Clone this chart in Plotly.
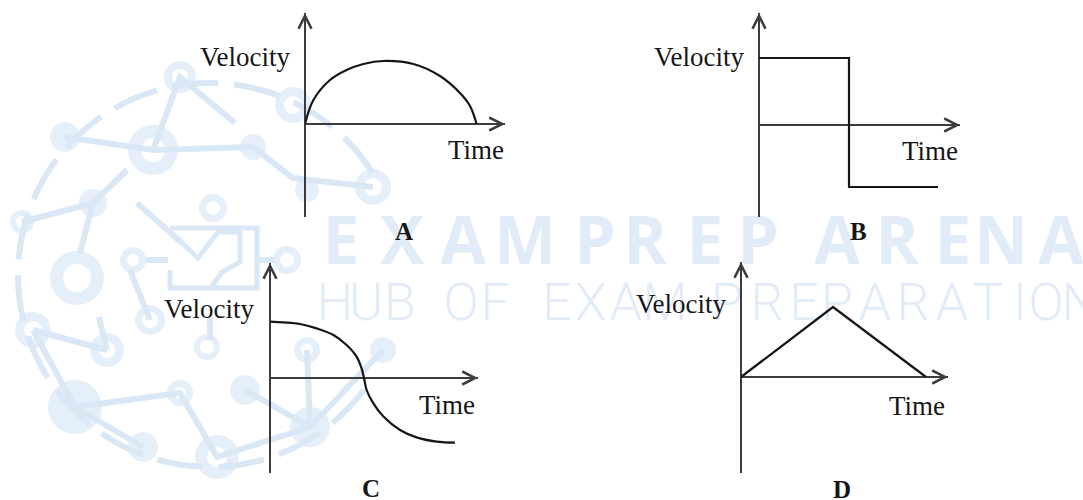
import math
import plotly.graph_objects as go

W, H = 1083, 500

# ---------------- data (time, velocity) ----------------
a_time = [0, 0.42, 1.25, 2.08, 2.92, 3.92, 5.42, 6.75, 7.75, 8.25, 8.58]
a_vel = [0, 1.2, 2.2, 2.7, 3.0, 3.15, 3.0, 2.4, 1.55, 0.9, 0]

b_time = [0, 4.5, 4.5, 8.95]
b_vel = [3.35, 3.35, -3.1, -3.1]

c_time = [0, 0.67, 1.5, 2.33, 3.17, 3.83, 4.33, 4.58, 4.7, 4.83, 5.17, 5.67, 6.5, 7.33, 8.33, 9.25]
c_vel = [2.82, 2.78, 2.7, 2.48, 2.15, 1.65, 1.07, 0.48, 0, -0.6, -1.27, -1.93, -2.6, -2.97, -3.18, -3.23]

d_time = [0, 4.6, 9.25]
d_vel = [0, 3.5, 0]

panel_letters = ["A", "B", "C", "D"]
y_label = "Velocity"
x_label = "Time"

watermark_line1 = "EXAM PREP ARENA"
watermark_line2 = "HUB OF EXAM PREPARATION"

# ---------------- layout helpers ----------------
def px(x):
    return x / W

def py(y):
    return 1 - y / H

INK = "#161616"
AXIS = "#3c3c3c"
WM_TEXT = "#e1ecf8"
WM_LOGO = "#dae8f6"
SERIF = "Liberation Serif, Times New Roman, serif"

panels = [
    dict(t=a_time, v=a_vel, shape="spline", box=(305, 505, 13, 217), tr=[0, 10], vr=[-4.65, 5.55],
         vel=(292, 57), tim=(476, 150), let=(404, 232)),
    dict(t=b_time, v=b_vel, shape="linear", box=(759, 960, 13, 217), tr=[0, 10.05], vr=[-4.6, 5.6],
         vel=(746, 57), tim=(930, 151), let=(858, 232)),
    dict(t=c_time, v=c_vel, shape="spline", box=(270, 478, 263, 473), tr=[0, 10.4], vr=[-4.75, 5.75],
         vel=(256, 309), tim=(447, 405), let=(371, 488)),
    dict(t=d_time, v=d_vel, shape="linear", box=(741, 948, 262, 473), tr=[0, 10.35], vr=[-4.8, 5.75],
         vel=(728, 304), tim=(917, 406), let=(842, 489)),
]

fig = go.Figure()

# ---------------- watermark (background subplot xy) ----------------
wm1_x = [341, 402, 463, 525, None, 595, 645, 705, 758, None, 837, 897, 953, 1001, 1061]
wm2_x = [335, 366, 400, None, 461, 495, None, 557, 591, 626, 665, None, 727, 767, 804, 837, 875,
         913, 952, 988, 1020, 1046, 1080]

# logo nodes (pixel positions, decorative)
filled_nodes = [(65, 137, 15), (253, 147, 13), (93, 203, 14), (75, 407, 27), (143, 447, 15),
                (245, 390, 15), (310, 427, 20), (383, 350, 13), (307, 190, 12)]
ring_nodes = [(180, 77, 16, 8), (153, 150, 25, 12), (293, 105, 18, 9), (22, 222, 12, 6),
              (77, 278, 27, 14), (373, 187, 18, 9), (33, 330, 18, 9), (107, 350, 17, 8),
              (180, 393, 13, 6), (217, 457, 22, 10), (207, 347, 13, 7), (150, 320, 15, 8),
              (213, 208, 14, 7), (133, 260, 13, 6), (287, 260, 14, 7), (307, 350, 13, 6)]
links = [[(65, 137), (153, 150), (253, 147)], [(153, 150), (180, 77), (235, 123)],
         [(253, 147), (293, 178), (373, 187)], [(22, 222), (93, 203), (127, 170)],
         [(93, 203), (80, 253)], [(33, 330), (107, 350)], [(99, 317), (107, 350)],
         [(33, 330), (75, 407), (180, 393), (217, 457), (310, 427), (383, 350)],
         [(75, 407), (143, 447)], [(245, 390), (310, 427)], [(307, 350), (310, 427)],
         [(137, 203), (182, 243)], [(210, 317), (210, 340)], [(150, 320), (130, 270)],
         [(146, 260), (168, 260)], [(257, 260), (274, 260)]]

for ln in links:
    fig.add_trace(go.Scatter(x=[p[0] for p in ln], y=[p[1] for p in ln], mode="lines",
                             line=dict(color=WM_LOGO, width=6), hoverinfo="skip",
                             showlegend=False, xaxis="x", yaxis="y"))

fig.add_trace(go.Scatter(x=[n[0] for n in filled_nodes], y=[n[1] for n in filled_nodes], mode="markers",
                         marker=dict(symbol="circle", size=[2 * n[2] for n in filled_nodes], color=WM_LOGO,
                                     line=dict(width=0)),
                         hoverinfo="skip", showlegend=False, xaxis="x", yaxis="y"))
fig.add_trace(go.Scatter(x=[n[0] for n in ring_nodes], y=[n[1] for n in ring_nodes], mode="markers",
                         marker=dict(symbol="circle-open", size=[n[2] + n[3] for n in ring_nodes], color=WM_LOGO,
                                     line=dict(width=[n[2] - n[3] for n in ring_nodes], color=WM_LOGO)),
                         hoverinfo="skip", showlegend=False, xaxis="x", yaxis="y"))

# teacher board
fig.add_trace(go.Scatter(x=[170, 257, 257, 170, 170], y=[228, 228, 288, 288, 270], mode="lines",
                         line=dict(color=WM_LOGO, width=5), hoverinfo="skip", showlegend=False,
                         xaxis="x", yaxis="y"))
fig.add_trace(go.Scatter(x=[182, 198, 218, 240, 240, 222, 212], y=[243, 258, 232, 232, 262, 272, 286],
                         mode="lines", line=dict(color=WM_LOGO, width=5), hoverinfo="skip",
                         showlegend=False, xaxis="x", yaxis="y"))

wm1 = [(x, ch) for x, ch in zip(wm1_x, watermark_line1) if x is not None]
wm2 = [(x, ch) for x, ch in zip(wm2_x, watermark_line2) if x is not None]
fig.add_trace(go.Scatter(x=[p[0] for p in wm1], y=[247] * len(wm1), mode="text", text=[p[1] for p in wm1],
                         textfont=dict(family="Open Sans, Liberation Sans, sans-serif", size=66,
                                       color=WM_TEXT, weight="bold"),
                         hoverinfo="skip", showlegend=False, xaxis="x", yaxis="y"))
fig.add_trace(go.Scatter(x=[p[0] for p in wm2], y=[307] * len(wm2), mode="text", text=[p[1] for p in wm2],
                         textfont=dict(family="Roboto, sans-serif", size=52,
                                       color=WM_TEXT, weight=300),
                         hoverinfo="skip", showlegend=False, xaxis="x", yaxis="y"))

# dashed arc of the logo
cx, cy, r = 210, 275, 192
def arc_path(a0, a1, steps):
    d = ""
    da = (a1 - a0) / steps
    for i in range(steps):
        t1 = math.radians(a0 + i * da)
        t2 = math.radians(a0 + (i + 1) * da)
        k = 4 / 3 * math.tan((t2 - t1) / 4)
        p0 = (cx + r * math.cos(t1), cy - r * math.sin(t1))
        p3 = (cx + r * math.cos(t2), cy - r * math.sin(t2))
        p1 = (p0[0] - k * r * math.sin(t1), p0[1] - k * r * math.cos(t1))
        p2 = (p3[0] + k * r * math.sin(t2), p3[1] + k * r * math.cos(t2))
        if i == 0:
            d += f"M{px(p0[0]):.5f},{py(p0[1]):.5f}"
        d += (f" C{px(p1[0]):.5f},{py(p1[1]):.5f} {px(p2[0]):.5f},{py(p2[1]):.5f}"
              f" {px(p3[0]):.5f},{py(p3[1]):.5f}")
    return d

shapes = [dict(type="path", xref="paper", yref="paper", path=arc_path(32, 328, 4),
               line=dict(color=WM_LOGO, width=6, dash="46px,16px"), layer="below")]

layout_axes = dict(
    xaxis=dict(domain=[0, 1], range=[0, W], visible=False, fixedrange=True),
    yaxis=dict(domain=[0, 1], range=[H, 0], visible=False, fixedrange=True),
)

annotations = []

# ---------------- four velocity-time panels ----------------
for i, p in enumerate(panels):
    n = i + 2
    xa, ya = f"x{n}", f"y{n}"
    x0, x1, ytop, ybot = p["box"]
    layout_axes[f"xaxis{n}"] = dict(domain=[px(x0), px(x1)], range=p["tr"], anchor=ya,
                                    showgrid=False, showticklabels=False, ticks="", showline=False,
                                    zeroline=True, zerolinecolor=AXIS, zerolinewidth=1.8, fixedrange=True)
    layout_axes[f"yaxis{n}"] = dict(domain=[py(ybot), py(ytop)], range=p["vr"], anchor=xa,
                                    showgrid=False, showticklabels=False, ticks="", showline=False,
                                    zeroline=True, zerolinecolor=AXIS, zerolinewidth=1.8, fixedrange=True)
    fig.add_trace(go.Scatter(x=p["t"], y=p["v"], mode="lines", xaxis=xa, yaxis=ya,
                             line=dict(color=INK, width=2.2, shape=p["shape"], smoothing=1.0),
                             cliponaxis=False, hoverinfo="skip", showlegend=False))
    # arrowheads on the axes
    annotations.append(dict(x=0, y=p["vr"][1], xref=xa, yref=ya, ax=0, ay=22, text="",
                            showarrow=True, arrowhead=5, arrowsize=1.7, arrowwidth=1.5, arrowcolor=AXIS))
    annotations.append(dict(x=p["tr"][1], y=0, xref=xa, yref=ya, ax=-22, ay=0, text="",
                            showarrow=True, arrowhead=5, arrowsize=1.7, arrowwidth=1.5, arrowcolor=AXIS))
    # labels
    annotations.append(dict(x=px(p["vel"][0]), y=py(p["vel"][1]), xref="paper", yref="paper",
                            xanchor="right", yanchor="middle", text=y_label, showarrow=False,
                            font=dict(family=SERIF, size=27, color=INK)))
    annotations.append(dict(x=px(p["tim"][0]), y=py(p["tim"][1]), xref="paper", yref="paper",
                            xanchor="center", yanchor="middle", text=x_label, showarrow=False,
                            font=dict(family=SERIF, size=27, color=INK)))
    annotations.append(dict(x=px(p["let"][0]), y=py(p["let"][1]), xref="paper", yref="paper",
                            xanchor="center", yanchor="middle", text=f"<b>{panel_letters[i]}</b>",
                            showarrow=False, font=dict(family=SERIF, size=25, color=INK)))

fig.update_layout(
    width=W, height=H, margin=dict(l=0, r=0, t=0, b=0),
    paper_bgcolor="white", plot_bgcolor="rgba(0,0,0,0)",
    showlegend=False, shapes=shapes, annotations=annotations, **layout_axes,
)

fig.write_html("out.html", config={"displayModeBar": False},
               post_script="document.body.style.margin='0';document.body.style.overflow='hidden';")
